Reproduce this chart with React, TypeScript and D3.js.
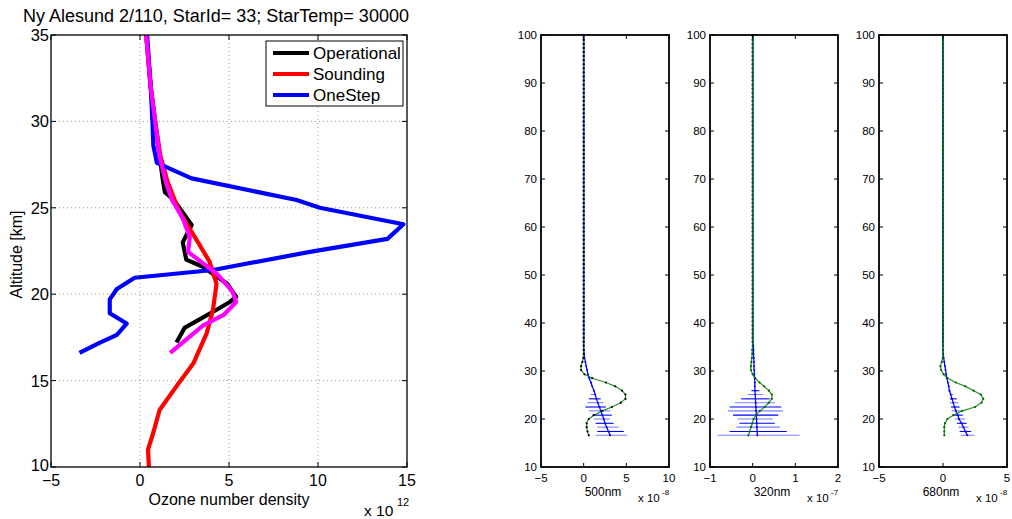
import React from "react";
import * as d3 from "d3";

const FONT = "'Liberation Sans', Arial, Helvetica, sans-serif";

// main panel, ozone number density in units of 1e12
const opAlt = [35, 32, 30, 28, 26.5, 25.9, 25.45, 24.0, 23.0, 22.0, 21.6, 20.6, 19.85, 19.55, 19.1, 18.05, 17.2];
const opVal = [0.35, 0.6, 0.85, 1.1, 1.3, 1.4, 1.9, 2.9, 2.4, 2.6, 3.5, 4.9, 5.4, 5.05, 4.3, 2.5, 2.05];

const sndAlt = [35, 32, 30, 28, 26.5, 25.45, 24.7, 23.1, 21.9, 20.6, 19.1, 17.75, 16.0, 14.75, 13.3, 12.0, 11.0, 10.0];
const sndVal = [0.35, 0.6, 0.85, 1.15, 1.55, 1.95, 2.25, 3.2, 3.9, 4.3, 4.1, 3.75, 3.0, 2.1, 1.1, 0.75, 0.45, 0.5];

const oneAlt = [35, 32, 30, 28.6, 27.6, 26.7, 25.45, 25.0, 24.05, 23.2, 22.45, 21.4, 20.95, 20.3, 19.7, 18.9, 18.3, 17.65, 17.2, 16.6];
const oneVal = [0.4, 0.6, 0.7, 0.75, 0.95, 2.9, 8.8, 10.1, 14.8, 13.9, 9.55, 4.1, -0.3, -1.3, -1.7, -1.7, -0.75, -1.3, -2.25, -3.4];

const magAlt = [35, 32, 30, 28, 26.5, 25.45, 24.4, 23.3, 22.45, 21.9, 21.2, 20.15, 19.55, 18.8, 18.2, 16.6];
const magVal = [0.35, 0.6, 0.85, 1.1, 1.45, 1.8, 2.4, 2.8, 2.7, 3.4, 4.3, 5.2, 5.4, 4.7, 3.55, 1.7];

// small panels: retrieval grid
const levels = [16.6, 17.4, 18.3, 19.1, 20.0, 20.8, 21.7, 22.5, 23.4, 24.2, 25.1, 25.9, 26.8, 27.6, 28.5, 29.3, 30.2, 31.0, 31.9, 32.7, 33.6, 34.4, 35.3];
const upperLevels = d3.range(36.1, 100.01, 0.85).concat([100]);

const g500 = [0.6, 0.45, 0.35, 0.35, 0.6, 1.2, 2.2, 3.3, 4.35, 4.9, 4.9, 4.5, 3.7, 2.6, 1.0, 0.1, -0.3, -0.3, -0.15, -0.05, 0, 0, 0];
const b500 = [3.1, 2.9, 2.7, 2.5, 2.35, 2.2, 2.0, 1.85, 1.65, 1.5, 1.35, 1.2, 1.0, 0.85, 0.65, 0.5, 0.4, 0.3, 0.2, 0.1, 0.05, 0.02, 0];
const g320 = [-0.1, -0.07, -0.04, -0.01, 0.02, 0.08, 0.17, 0.28, 0.38, 0.45, 0.45, 0.38, 0.27, 0.16, 0.06, 0.0, -0.04, -0.04, -0.03, -0.02, -0.01, -0.01, 0];
const b320 = [0.11, 0.105, 0.1, 0.095, 0.09, 0.085, 0.08, 0.075, 0.07, 0.065, 0.06, 0.055, 0.05, 0.05, 0.045, 0.04, 0.035, 0.03, 0.03, 0.025, 0.02, 0.02, 0.015];
const g680 = [0.1, 0.1, 0.1, 0.15, 0.35, 0.8, 1.5, 2.5, 3.0, 3.15, 2.95, 2.4, 1.75, 1.0, 0.35, 0.05, -0.15, -0.2, -0.1, -0.02, 0, 0, 0];
const b680 = [1.9, 1.75, 1.6, 1.45, 1.25, 1.15, 1.0, 0.9, 0.8, 0.7, 0.6, 0.5, 0.45, 0.38, 0.3, 0.25, 0.2, 0.15, 0.1, 0.05, 0.02, 0, 0];

// error bars on the lowest 12 levels
const errLevels = levels.slice(0, 12);
const lo500 = [1.4, 1.6, 1.6, 1.4, 1.2, 1.0, 0.6, 0.2, 0.45, 0.6, 0.8, 1.2];
const hi500 = [5.1, 4.7, 4.1, 3.5, 3.1, 3.3, 3.1, 2.6, 2.3, 2.0, 1.4, 1.2];
const lo320 = [-0.82, -0.54, -0.38, -0.31, -0.35, -0.46, -0.58, -0.54, -0.42, -0.27, -0.12, -0.03];
const hi320 = [1.1, 0.8, 0.64, 0.52, 0.47, 0.6, 0.71, 0.67, 0.52, 0.4, 0.24, 0.16];
const lo680 = [1.4, 1.3, 1.2, 1.1, 0.94, 0.85, 0.68, 0.62, 0.55, 0.55, 0.55, 0.5];
const hi680 = [2.45, 2.2, 2.0, 1.85, 1.72, 1.55, 1.46, 1.3, 1.2, 1.07, 0.8, 0.6];

const panels = [
  { name: "500nm", exp: "-8", left: 541, domain: [-5, 10], ticks: [-5, 0, 5, 10], green: g500, blue: b500, lo: lo500, hi: hi500, dot: "#000", top: "#2a7f8f" },
  { name: "320nm", exp: "-7", left: 710, domain: [-1, 2], ticks: [-1, 0, 1, 2], green: g320, blue: b320, lo: lo320, hi: hi320, dot: "#006400", top: "#0a6a40" },
  { name: "680nm", exp: "-8", left: 879, domain: [-5, 5], ticks: [-5, 0, 5], green: g680, blue: b680, lo: lo680, hi: hi680, dot: "#006400", top: "#0a6a40" },
];

const TOP = 35, BOTTOM = 467;

function MainChart() {
  const L = 51, R = 407;
  const x = d3.scaleLinear().domain([-5, 15]).range([L, R]);
  const y = d3.scaleLinear().domain([10, 35]).range([BOTTOM, TOP]);
  const path = (alt: number[], val: number[]) => d3.line()(alt.map((a, i) => [x(val[i]), y(a)]))!;
  const xt = [-5, 0, 5, 10, 15];
  const yt = [10, 15, 20, 25, 30, 35];
  const series = [
    { alt: opAlt, val: opVal, color: "#000" },
    { alt: sndAlt, val: sndVal, color: "#ff0000" },
    { alt: oneAlt, val: oneVal, color: "#0000ff" },
    { alt: magAlt, val: magVal, color: "#ff00ff" },
  ];
  const legend = [
    { label: "Operational", color: "#000" },
    { label: "Sounding", color: "#ff0000" },
    { label: "OneStep", color: "#0000ff" },
  ];
  return (
    <g fontFamily={FONT}>
      <text x={23} y={22} fontSize={18}>Ny Alesund 2/110, StarId= 33; StarTemp= 30000</text>
      {xt.slice(1, -1).map(t => (
        <line key={"gx" + t} x1={x(t)} x2={x(t)} y1={TOP} y2={BOTTOM} stroke="#999" strokeDasharray="1,3" />
      ))}
      {yt.slice(1, -1).map(t => (
        <line key={"gy" + t} x1={L} x2={R} y1={y(t)} y2={y(t)} stroke="#999" strokeDasharray="1,3" />
      ))}
      <defs>
        <clipPath id="mainclip"><rect x={L} y={TOP} width={R - L} height={BOTTOM - TOP} /></clipPath>
      </defs>
      <g clipPath="url(#mainclip)">
        {series.map((s, i) => (
          <path key={i} d={path(s.alt, s.val)} fill="none" stroke={s.color} strokeWidth={4.2} strokeLinejoin="round" />
        ))}
      </g>
      <rect x={L} y={TOP} width={R - L} height={BOTTOM - TOP} fill="none" stroke="#000" strokeWidth={1.3} />
      {xt.map(t => (
        <g key={"xt" + t}>
          <line x1={x(t)} x2={x(t)} y1={BOTTOM} y2={BOTTOM - 5} stroke="#000" />
          <line x1={x(t)} x2={x(t)} y1={TOP} y2={TOP + 5} stroke="#000" />
          <text x={x(t)} y={486} fontSize={16} textAnchor="middle">{t < 0 ? "\u2212" + Math.abs(t) : t}</text>
        </g>
      ))}
      {yt.map(t => (
        <g key={"yt" + t}>
          <line x1={L} x2={L + 5} y1={y(t)} y2={y(t)} stroke="#000" />
          <line x1={R} x2={R - 5} y1={y(t)} y2={y(t)} stroke="#000" />
          <text x={49} y={y(t) + (t === 10 ? 4 : 6)} fontSize={16.5} textAnchor="end">{t}</text>
        </g>
      ))}
      <text x={229} y={505} fontSize={16} textAnchor="middle">Ozone number density</text>
      <text x={364} y={516} fontSize={15.5}>x 10</text>
      <text x={397} y={506} fontSize={11}>12</text>
      <text transform={`translate(22,${y(22.3)}) rotate(-90)`} fontSize={16} textAnchor="middle">Altitude [km]</text>
      <rect x={266} y={41} width={137} height={65} fill="#fff" stroke="#000" strokeWidth={1} />
      {legend.map((l, i) => (
        <g key={l.label}>
          <line x1={273} x2={309} y1={53 + i * 21} y2={53 + i * 21} stroke={l.color} strokeWidth={4.2} />
          <text x={313} y={59 + i * 21} fontSize={17}>{l.label}</text>
        </g>
      ))}
    </g>
  );
}

function Panel({ p }: { p: typeof panels[number] }) {
  const L = p.left, R = p.left + 128;
  const x = d3.scaleLinear().domain(p.domain).range([L, R]);
  const y = d3.scaleLinear().domain([10, 100]).range([BOTTOM, TOP]);
  const alts = levels.concat(upperLevels);
  const full = (vals: number[]) => vals.concat(upperLevels.map(() => 0));
  const gv = full(p.green), bv = full(p.blue);
  const line = (vals: number[]) => d3.line()(alts.map((a, i) => [x(vals[i]), y(a)]))!;
  const yt = d3.range(10, 101, 10);
  const mid = (L + R) / 2;
  const fmt = (t: number) => (t < 0 ? "\u2212" + Math.abs(t) : String(t));
  return (
    <g fontFamily={FONT}>
      {errLevels.map((a, i) => (
        <line key={"e" + i} x1={x(p.lo[i])} x2={x(p.hi[i])} y1={y(a)} y2={y(a)}
          stroke={i % 2 === 0 ? "#7f7fff" : "#0000ff"} strokeWidth={1.1} />
      ))}
      <path d={line(bv)} fill="none" stroke="#0000ff" strokeWidth={1.2} />
      <path d={line(gv)} fill="none" stroke="#008000" strokeWidth={1.2} opacity={0.85} />
      <line x1={x(0)} x2={x(0)} y1={y(100)} y2={y(36)} stroke={p.top} strokeWidth={1.6} />
      {alts.map((a, i) => (
        <circle key={"b" + i} cx={x(bv[i])} cy={y(a)} r={1} fill="#0000ff" />
      ))}
      {alts.map((a, i) => (
        <circle key={"g" + i} cx={x(gv[i])} cy={y(a)} r={1.1} fill={p.dot} />
      ))}
      <rect x={L} y={TOP} width={R - L} height={BOTTOM - TOP} fill="none" stroke="#000" strokeWidth={1.8} />
      {yt.map(t => (
        <g key={"y" + t}>
          <line x1={L} x2={L + 4} y1={y(t)} y2={y(t)} stroke="#000" />
          <line x1={R} x2={R - 4} y1={y(t)} y2={y(t)} stroke="#000" />
          <text x={L - 4} y={y(t) + 4} fontSize={11.5} textAnchor="end">{t}</text>
        </g>
      ))}
      {p.ticks.map(t => (
        <g key={"x" + t}>
          <line x1={x(t)} x2={x(t)} y1={BOTTOM} y2={BOTTOM - 4} stroke="#000" />
          <line x1={x(t)} x2={x(t)} y1={TOP} y2={TOP + 4} stroke="#000" />
          <text x={x(t)} y={482} fontSize={11.5} textAnchor="middle">{fmt(t)}</text>
        </g>
      ))}
      <text x={mid - 2} y={496} fontSize={12} textAnchor="middle">{p.name}</text>
      <text x={R - 31} y={502} fontSize={11.5}>x 10</text>
      <text x={R - 7} y={495} fontSize={8}>{p.exp}</text>
    </g>
  );
}

export default function App() {
  return (
    <svg width={1012} height={519} style={{ position: "absolute", left: 0, top: 0, background: "#fff" }}>
      <rect width={1012} height={519} fill="#fff" />
      <MainChart />
      {panels.map(p => <Panel key={p.name} p={p} />)}
    </svg>
  );
}
